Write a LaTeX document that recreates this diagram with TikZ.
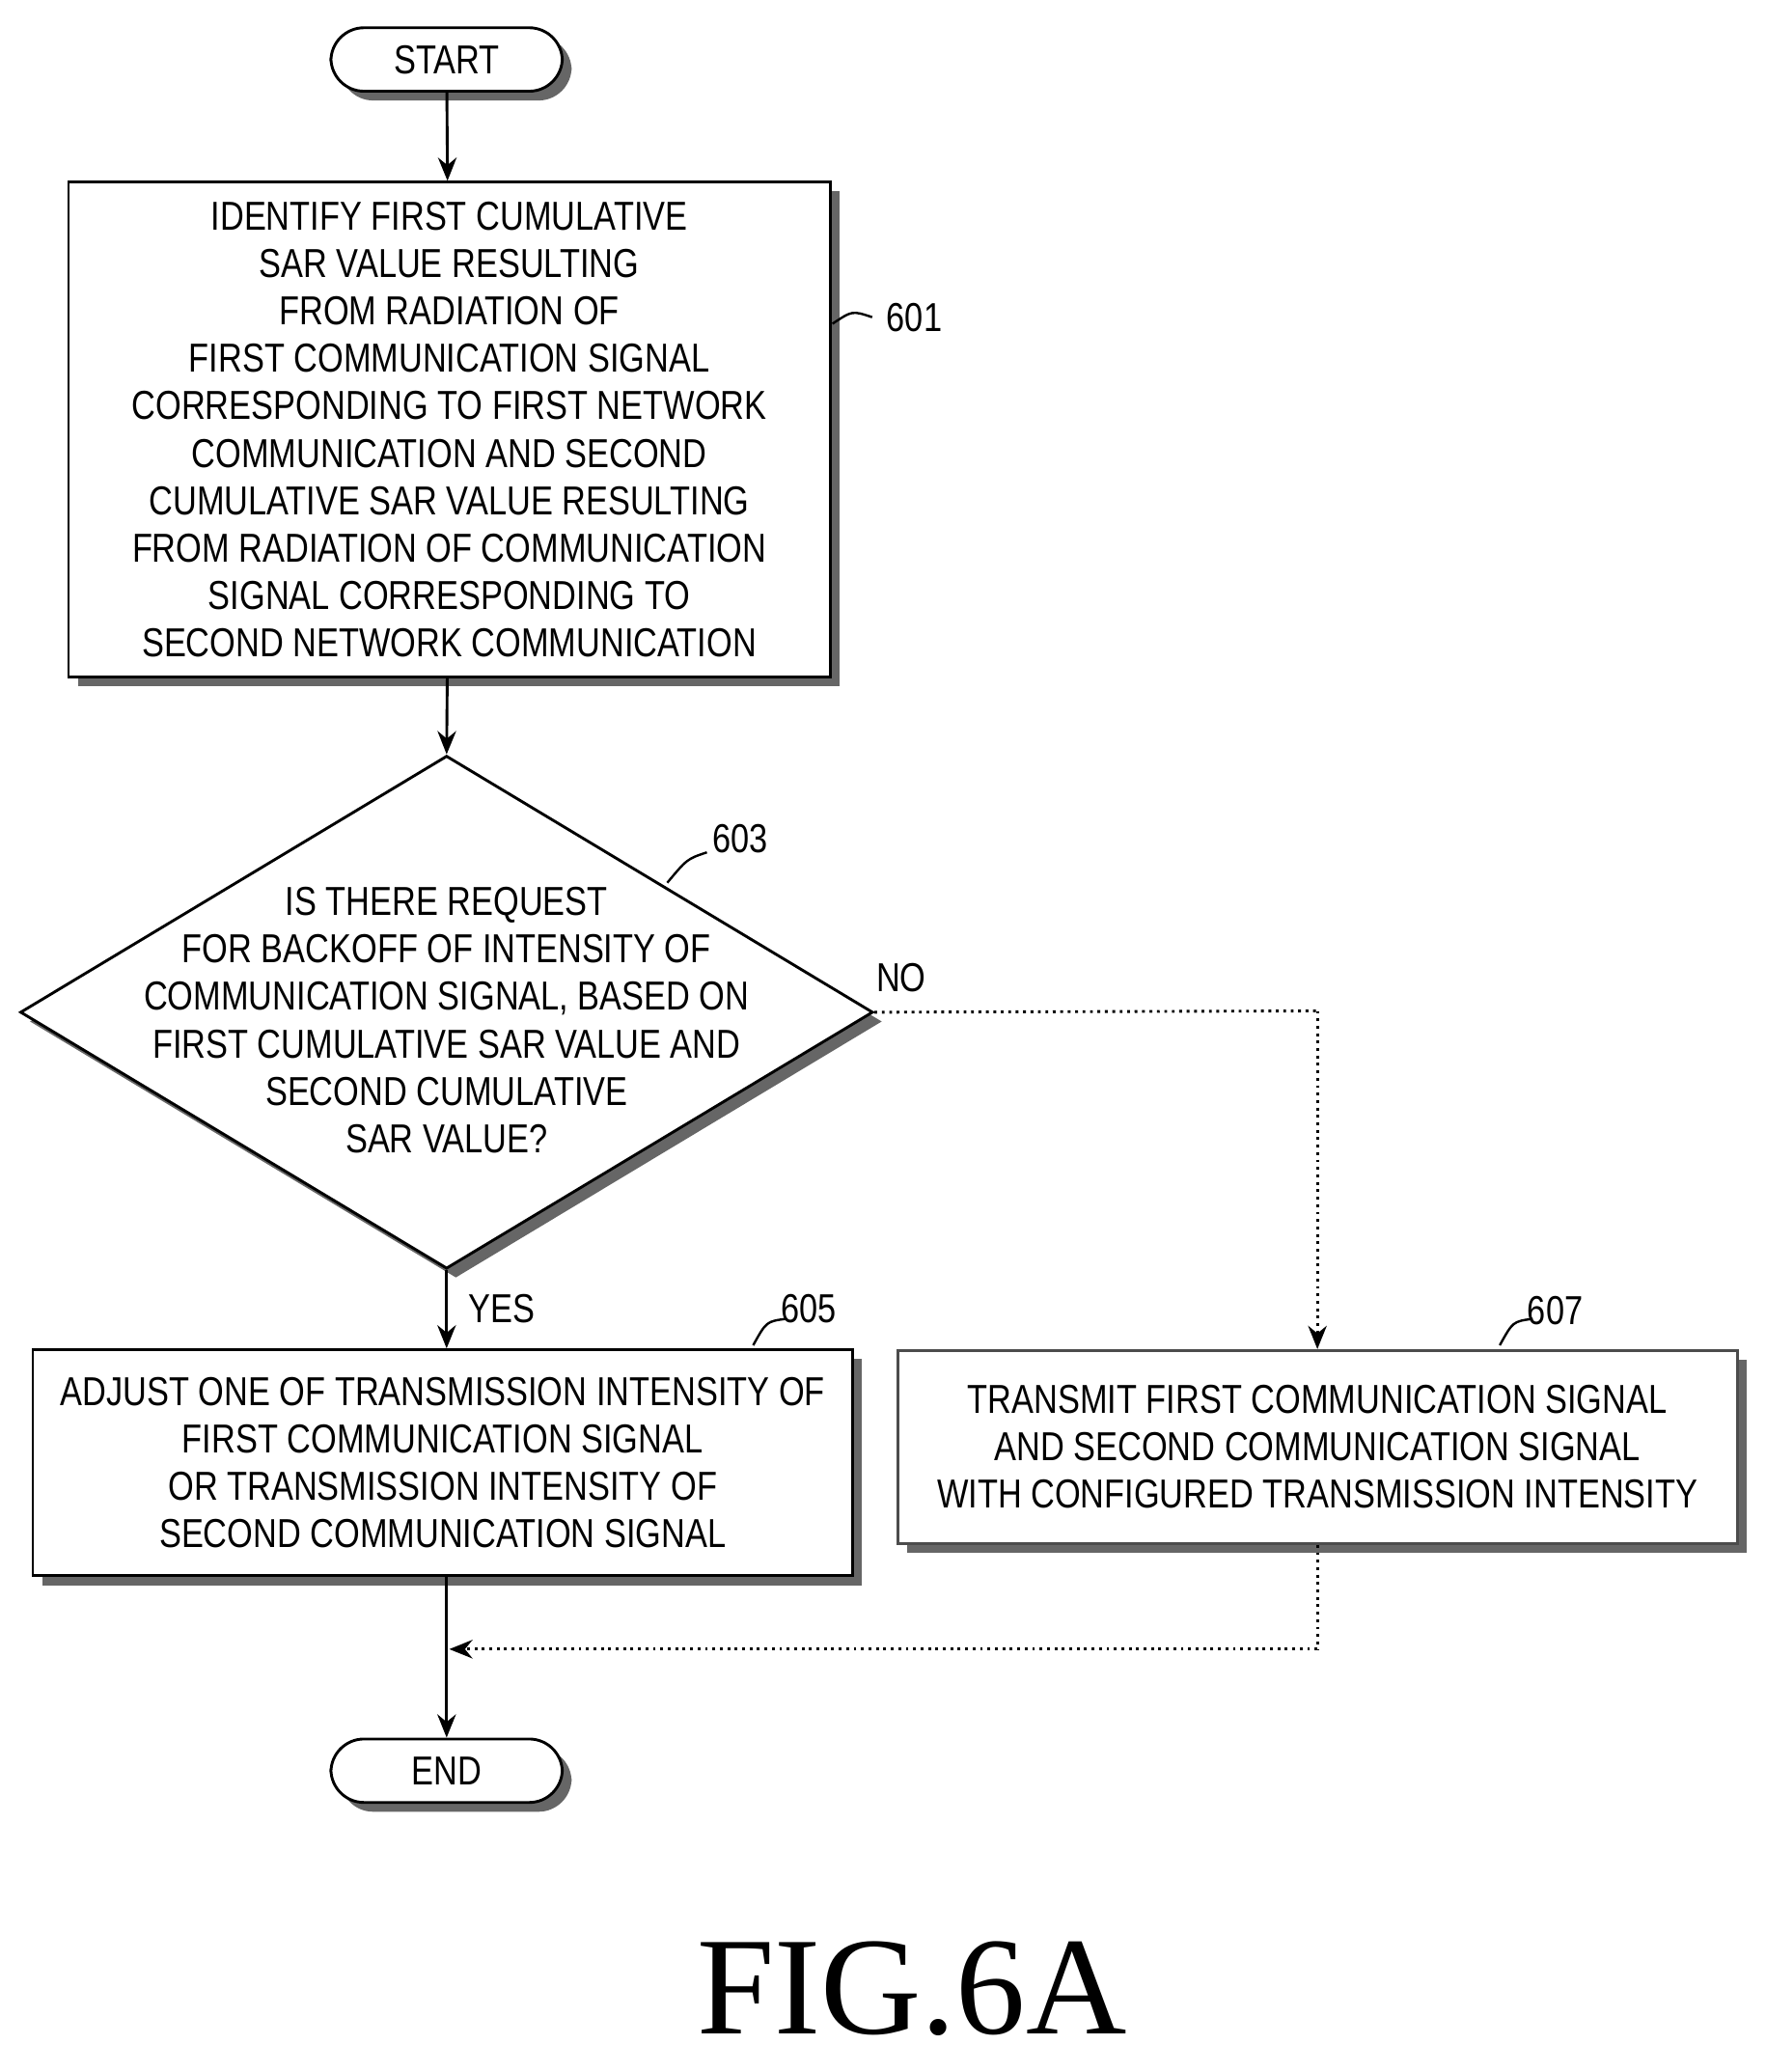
\documentclass[tikz,border=0pt]{standalone}
\usepackage{fontspec}
\setmainfont{Liberation Sans}[FakeStretch=0.82]
\newfontfamily\figfont{Liberation Serif}
\usetikzlibrary{shapes.geometric,shadows,arrows.meta}
\begin{document}
\begin{tikzpicture}[x=0.01cm,y=-0.01cm,
  sh/.style={drop shadow={shadow xshift=0.07cm,shadow yshift=-0.07cm,fill=black!60,opacity=1}},
  box/.style={draw,fill=white,line width=0.6pt,align=center,inner sep=2pt,font=\fontsize{8.7}{10.2}\selectfont,sh},
  pill/.style={draw,fill=white,rounded corners=0.25cm,line width=0.6pt,minimum width=1.75cm,minimum height=0.48cm,font=\fontsize{8.7}{10.2}\selectfont,sh},
  arr/.style={-{Stealth[length=5pt,width=4pt]},line width=0.6pt},
  dot/.style={densely dotted,line width=0.6pt},
  lbl/.style={font=\fontsize{8.7}{10.2}\selectfont},
  lead/.style={line width=0.5pt}]
\useasboundingbox (0,0) rectangle (1336,1568);
\node[pill] (start) at (338,45) {START};
\node[box,minimum width=5.76cm,minimum height=3.74cm] (b601) at (340,325) {IDENTIFY FIRST CUMULATIVE\\SAR VALUE RESULTING\\FROM RADIATION OF\\FIRST COMMUNICATION SIGNAL\\CORRESPONDING TO FIRST NETWORK\\COMMUNICATION AND SECOND\\CUMULATIVE SAR VALUE RESULTING\\FROM RADIATION OF COMMUNICATION\\SIGNAL CORRESPONDING TO\\SECOND NETWORK COMMUNICATION};
\node[diamond,draw,fill=white,line width=0.6pt,sh,minimum width=6.45cm,minimum height=3.88cm,inner sep=0pt,aspect=1.66] (d603) at (338,766) {};
\node[align=center,font=\fontsize{8.7}{10.2}\selectfont] at (338,772) {IS THERE REQUEST\\FOR BACKOFF OF INTENSITY OF\\COMMUNICATION SIGNAL, BASED ON\\FIRST CUMULATIVE SAR VALUE AND\\SECOND CUMULATIVE\\SAR VALUE?};
\node[box,minimum width=6.2cm,minimum height=1.71cm] (b605) at (335,1107) {ADJUST ONE OF TRANSMISSION INTENSITY OF\\FIRST COMMUNICATION SIGNAL\\OR TRANSMISSION INTENSITY OF\\SECOND COMMUNICATION SIGNAL};
\node[box,draw=black!70,minimum width=6.35cm,minimum height=1.46cm] (b607) at (997,1095) {TRANSMIT FIRST COMMUNICATION SIGNAL\\AND SECOND COMMUNICATION SIGNAL\\WITH CONFIGURED TRANSMISSION INTENSITY};
\node[pill] (end) at (338,1340) {END};
\coordinate (c1) at (997,765);
\coordinate (c2) at (997,1248);
\coordinate (c3) at (340,1248);
\draw[arr] (start) -- (b601);
\draw[arr] (b601) -- (d603.north);
\draw[arr] (d603.south) -- (d603.south |- b605.north);
\draw[dot] (d603.east) -- (c1);
\draw[dot,arr] (c1) -- (b607.north);
\draw[dot] (b607.south) -- (c2);
\draw[dot,arr] (c2) -- (c3);
\draw[arr] (b605.south -| d603.south) -- (end);
\node[lbl] (n601) at (692,240) {601};
\draw[lead] (630,245) .. controls (645,235) .. (660,240);
\node[lbl] (n603) at (560,635) {603};
\draw[lead] (505,668) .. controls (520,650) .. (535,645);
\node[lbl] (n605) at (612,990) {605};
\draw[lead] (570,1018) .. controls (580,1000) .. (595,998);
\node[lbl] (n607) at (1177,992) {607};
\draw[lead] (1135,1018) .. controls (1145,1000) .. (1160,998);
\node[lbl] (no) at (682,740) {NO};
\node[lbl] (yes) at (380,990) {YES};
\node[font=\figfont\fontsize{30}{30}\selectfont] (fig) at (690,1505) {FIG.6A};
\end{tikzpicture}
\end{document}
